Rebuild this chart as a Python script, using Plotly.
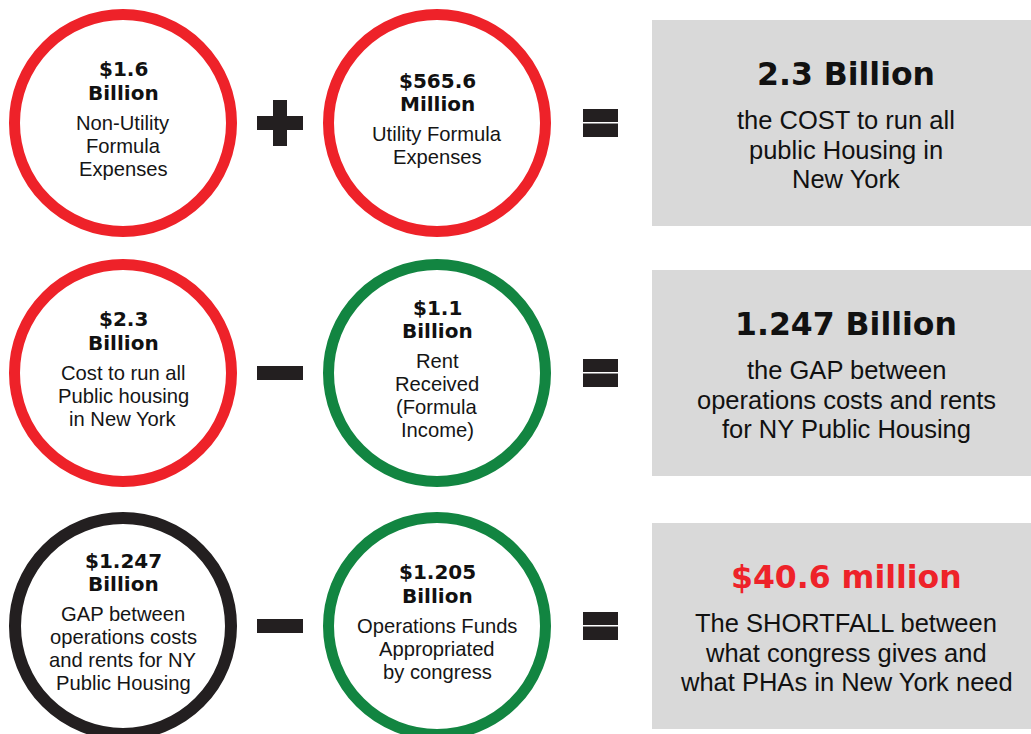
import plotly.graph_objects as go

# ---------------- data ----------------
circle_amounts = ["$1.6", "$565.6", "$2.3", "$1.1", "$1.247", "$1.205"]
circle_units = ["Billion", "Million", "Billion", "Billion", "Billion", "Billion"]
circle_descriptions = [
    ["Non-Utility", "Formula", "Expenses"],
    ["Utility Formula", "Expenses"],
    ["Cost to run all", "Public housing", "in New York"],
    ["Rent", "Received", "(Formula", "Income)"],
    ["GAP between", "operations costs", "and rents for NY", "Public Housing"],
    ["Operations Funds", "Appropriated", "by congress"],
]
circle_colors = ["red", "red", "red", "green", "black", "green"]
row_operators = ["+", "−", "−"]
result_values = ["2.3 Billion", "1.247 Billion", "$40.6 million"]
result_value_colors = ["black", "black", "red"]
result_descriptions = [
    ["the COST to run all", "public Housing in", "New York"],
    ["the GAP between", "operations costs and rents", "for NY Public Housing"],
    ["The SHORTFALL between", "what congress gives and", "what PHAs in New York need"],
]

# ---------------- style / layout ----------------
W, H = 1031, 734
PALETTE = {"red": "#EE2229", "green": "#128541", "black": "#231F20"}
GRAY = "#D9D9D9"
BOLD_FONT = "DejaVu Sans"
TEXT_FONT = "Liberation Sans"

row_y = [123, 373, 626]
col_x = [123, 437]
circle_r_outer = 114

fig = go.Figure()
shapes = []
annotations = []


def ann(x, y, text, size, color="#111111", family=TEXT_FONT, weight="normal"):
    annotations.append(dict(
        x=x, y=y, xref="x", yref="y", text=text, showarrow=False,
        xanchor="center", yanchor="middle", borderpad=0, borderwidth=0,
        font=dict(family=family, size=size, color=color, weight=weight),
    ))


for i, (amt, unit, desc, col) in enumerate(zip(circle_amounts, circle_units,
                                               circle_descriptions, circle_colors)):
    row, colpos = divmod(i, 2)
    cx, cy = col_x[colpos], row_y[row]
    lw = 12 if col == "black" else 11
    r = circle_r_outer - lw / 2
    shapes.append(dict(type="circle", xref="x", yref="y",
                       x0=cx - r, x1=cx + r, y0=cy - r, y1=cy + r,
                       line=dict(color=PALETTE[col], width=lw),
                       fillcolor="white", layer="above"))
    n = len(desc)
    block = 23.5 + 30 + 23 * (n - 1)
    y0 = cy - 4 - block / 2
    ann(cx, y0, amt, 20, "#111111", BOLD_FONT, "bold")
    ann(cx, y0 + 23.5, unit, 20, "#111111", BOLD_FONT, "bold")
    for k, line in enumerate(desc):
        ann(cx, y0 + 53.5 + 23 * k, line, 20.2, "#151515")

dark = PALETTE["black"]
for row, op in enumerate(row_operators):
    cy = row_y[row]
    # operator between circles
    shapes.append(dict(type="rect", xref="x", yref="y", x0=257, x1=303,
                       y0=cy - 7, y1=cy + 7, fillcolor=dark, line_width=0))
    if op == "+":
        shapes.append(dict(type="rect", xref="x", yref="y", x0=273, x1=287,
                           y0=cy - 23, y1=cy + 23, fillcolor=dark, line_width=0))
    # equals sign
    shapes.append(dict(type="rect", xref="x", yref="y", x0=583, x1=618,
                       y0=cy - 14, y1=cy - 1, fillcolor=dark, line_width=0))
    shapes.append(dict(type="rect", xref="x", yref="y", x0=583, x1=618,
                       y0=cy + 0.5, y1=cy + 14, fillcolor=dark, line_width=0))
    # result box
    shapes.append(dict(type="rect", xref="x", yref="y", x0=652, x1=1040,
                       y0=cy - 103, y1=cy + 103, fillcolor=GRAY, line_width=0,
                       layer="below"))
    tx = 846
    ann(tx, cy - 49, result_values[row], 31.5,
        "#111111" if result_value_colors[row] == "black" else PALETTE["red"],
        BOLD_FONT, "bold")
    for k, line in enumerate(result_descriptions[row]):
        ann(tx, cy - 3 + 29.5 * k, line, 25.5, "#111111")

fig.update_layout(
    width=W, height=H,
    margin=dict(l=0, r=0, t=0, b=0),
    paper_bgcolor="white", plot_bgcolor="white",
    xaxis=dict(range=[0, W], visible=False, fixedrange=True),
    yaxis=dict(range=[H, 0], visible=False, fixedrange=True),
    shapes=shapes, annotations=annotations, showlegend=False,
)

fig.write_html(
    "out.html",
    config={"displayModeBar": False},
    post_script="document.body.style.margin='0';document.body.style.padding='0';",
)
